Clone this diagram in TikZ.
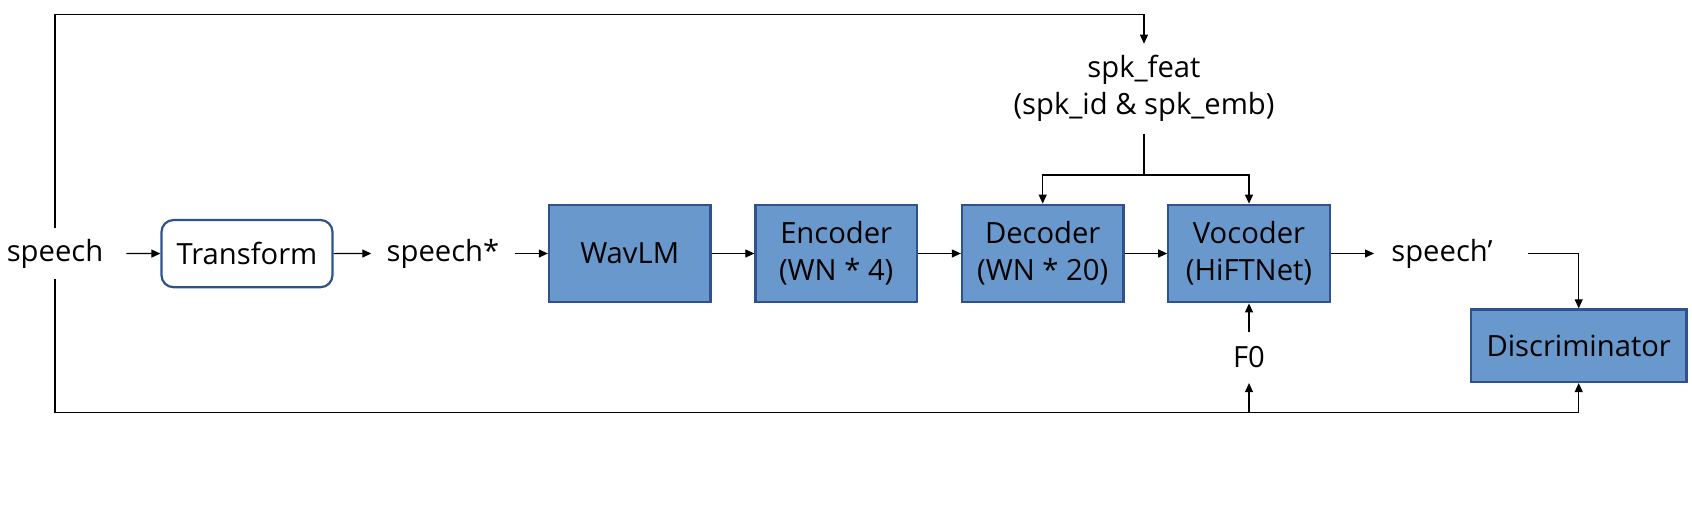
\documentclass[tikz,border=0pt]{standalone}
\usepackage{fontspec}
\setmainfont{Open Sans}
\usetikzlibrary{arrows.meta,calc}
\definecolor{boxfill}{HTML}{6998CC}
\definecolor{boxline}{HTML}{2F528F}
\begin{document}
\begin{tikzpicture}[x=0.5pt,y=-0.5pt,
  font=\fontsize{14.6}{18.5}\selectfont,
  arr/.style={-{Triangle[length=4.5pt,width=4pt]}, line width=0.6pt},
  conn/.style={line width=0.6pt},
  block/.style={draw=boxline, fill=boxfill, line width=1.1pt, inner sep=0pt, align=center,
    minimum width=80.75pt, minimum height=48.8pt},
  lbl/.style={inner sep=0pt, align=center},
  tbox/.style={draw=boxline, fill=white, line width=1.1pt, rounded corners=6pt, inner sep=0pt,
    minimum width=85.5pt, minimum height=33.6pt}
]
\useasboundingbox (0,0) rectangle (1692,504);
% label nodes
\node[lbl, minimum width=71pt, minimum height=25.5pt] (speech) at (55,253.5) {speech};
\node[tbox] (transform) at (247,253.6) {Transform};
\node[lbl, minimum width=71.3pt] (speechs) at (443,253.5) {speech*};
\node[block] (wavlm) at (629.7,253.5) {WavLM};
\node[block] (encoder) at (836.2,253.5) {Encoder\\(WN * 4)};
\node[block] (decoder) at (1042.7,253.5) {Decoder\\(WN * 20)};
\node[block] (vocoder) at (1249,253.5) {Vocoder\\(HiFTNet)};
\node[lbl, anchor=west, inner xsep=8.5pt] (speechp) at (1374,253.5) {speech’};
\node[lbl, minimum height=25.4pt] (f0) at (1249,357.3) {F0};
\node[block, minimum width=107.8pt, minimum height=36.3pt] (disc) at (1578.7,345.7) {Discriminator};
\node[lbl, minimum height=44.6pt] (spk) at (1144,88.7) {spk\_feat\\(spk\_id \& spk\_emb)};
% coordinates
\coordinate (ktop) at (1144,14.3);
\coordinate (kbot) at (1578.7,412.7);
\coordinate (br) at (1144,175);
% main chain
\draw[arr] (speech.east) -- (transform.west);
\draw[arr] (transform.east) -- (speechs.west);
\draw[arr] (speechs.east) -- (wavlm.west);
\draw[arr] (wavlm.east) -- (encoder.west);
\draw[arr] (encoder.east) -- (decoder.west);
\draw[arr] (decoder.east) -- (vocoder.west);
\draw[arr] (vocoder.east) -- (speechp.west);
\draw[arr] ([xshift=9pt]speechp.east) -| (disc.north);
% speaker feature
\draw[arr] (speech.north) |- (ktop) -- (spk.north);
\draw[conn] (spk.south) -- (br);
\draw[arr] (br) -| (decoder.north);
\draw[arr] (br) -| (vocoder.north);
% F0
\draw[arr] (f0.north) -- (vocoder.south);
% bottom loop
\draw[arr] (speech.south) |- (kbot) -- (disc.south);
\draw[arr] (f0.south |- kbot) -- (f0.south);
\end{tikzpicture}
\end{document}
